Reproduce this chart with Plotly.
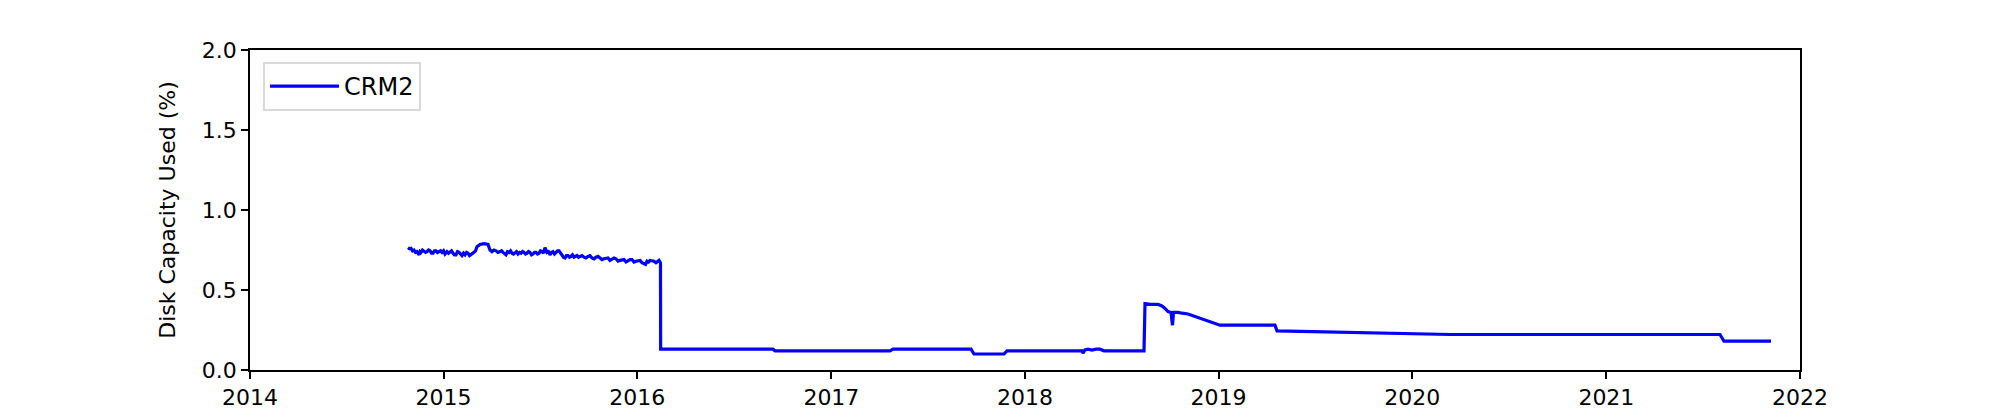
import pandas as pd
import plotly.graph_objects as go

# decimal years and disk capacity used (%) for CRM2
years = [
    2014.8155, 2014.8233, 2014.8310, 2014.8388, 2014.8465, 2014.8542, 2014.8619, 2014.8671,
    2014.8723, 2014.8775, 2014.8826, 2014.8903, 2014.8981, 2014.9058, 2014.9135, 2014.9213,
    2014.9290, 2014.9368, 2014.9445, 2014.9522, 2014.9600, 2014.9677, 2014.9755, 2014.9832,
    2014.9910, 2014.9987, 2015.0065, 2015.0116, 2015.0168, 2015.0245, 2015.0323, 2015.0400,
    2015.0477, 2015.0555, 2015.0632, 2015.0710, 2015.0787, 2015.0865, 2015.0942, 2015.1019,
    2015.1097, 2015.1174, 2015.1252, 2015.1329, 2015.1406, 2015.1484, 2015.1561, 2015.1639,
    2015.1716, 2015.1871, 2015.2077, 2015.2284, 2015.2387, 2015.2490, 2015.2594, 2015.2697,
    2015.2800, 2015.2903, 2015.2981, 2015.3058, 2015.3135, 2015.3213, 2015.3290, 2015.3368,
    2015.3445, 2015.3523, 2015.3600, 2015.3677, 2015.3755, 2015.3832, 2015.3910, 2015.3987,
    2015.4065, 2015.4142, 2015.4219, 2015.4297, 2015.4374, 2015.4452, 2015.4529, 2015.4606,
    2015.4684, 2015.4761, 2015.4839, 2015.4916, 2015.4994, 2015.5071, 2015.5148, 2015.5226,
    2015.5277, 2015.5329, 2015.5406, 2015.5484, 2015.5561, 2015.5639, 2015.5716, 2015.5794,
    2015.5871, 2015.5948, 2015.6026, 2015.6103, 2015.6181, 2015.6258, 2015.6335, 2015.6413,
    2015.6490, 2015.6568, 2015.6645, 2015.6723, 2015.6800, 2015.6877, 2015.6955, 2015.7032,
    2015.7135, 2015.7239, 2015.7342, 2015.7445, 2015.7548, 2015.7652, 2015.7755, 2015.7858,
    2015.7961, 2015.8065, 2015.8168, 2015.8271, 2015.8374, 2015.8477, 2015.8581, 2015.8684,
    2015.8787, 2015.8890, 2015.8994, 2015.9097, 2015.9200, 2015.9303, 2015.9406, 2015.9510,
    2015.9613, 2015.9716, 2015.9819, 2015.9923, 2016.0026, 2016.0129, 2016.0232, 2016.0335,
    2016.0413, 2016.0490, 2016.0568, 2016.0645, 2016.0748, 2016.0852, 2016.0955, 2016.1058,
    2016.1110, 2016.1161, 2016.1187, 2016.1195,
    2016.6994, 2016.7097, 2017.3032, 2017.3187, 2017.7213, 2017.7368, 2017.8916, 2017.9071,
    2018.2942, 2018.2994, 2018.3097, 2018.3252, 2018.3458, 2018.3665, 2018.3871, 2018.4077,
    2018.6142, 2018.6194, 2018.6452, 2018.6865, 2018.7071, 2018.7226, 2018.7381, 2018.7535,
    2018.7613, 2018.7665, 2018.7897, 2018.8103, 2018.8413, 2019.0065, 2019.2903, 2019.3006,
    2019.9355, 2020.1935, 2021.5871, 2021.6077, 2021.8503,
]
usage = [
    0.765, 0.758, 0.76, 0.745, 0.75, 0.735, 0.74, 0.725,
    0.72, 0.74, 0.735, 0.75, 0.745, 0.735, 0.74, 0.75,
    0.745, 0.73, 0.73, 0.745, 0.745, 0.735, 0.74, 0.745,
    0.735, 0.745, 0.725, 0.735, 0.74, 0.73, 0.735, 0.745,
    0.73, 0.72, 0.72, 0.74, 0.735, 0.725, 0.715, 0.73,
    0.72, 0.735, 0.73, 0.715, 0.72, 0.73, 0.735, 0.745,
    0.77, 0.785, 0.79, 0.785, 0.75, 0.74, 0.75, 0.745,
    0.735, 0.74, 0.745, 0.735, 0.725, 0.72, 0.74, 0.735,
    0.745, 0.73, 0.725, 0.735, 0.74, 0.725, 0.735, 0.73,
    0.74, 0.735, 0.725, 0.73, 0.74, 0.735, 0.72, 0.725,
    0.735, 0.735, 0.725, 0.73, 0.745, 0.74, 0.73, 0.765,
    0.75, 0.735, 0.74, 0.72, 0.735, 0.74, 0.725, 0.735,
    0.745, 0.745, 0.73, 0.72, 0.705, 0.70, 0.715, 0.715,
    0.705, 0.71, 0.72, 0.705, 0.71, 0.715, 0.705, 0.71,
    0.715, 0.705, 0.70, 0.71, 0.715, 0.70, 0.695, 0.705,
    0.71, 0.70, 0.69, 0.695, 0.70, 0.70, 0.685, 0.69,
    0.70, 0.695, 0.68, 0.685, 0.69, 0.69, 0.675, 0.685,
    0.69, 0.69, 0.675, 0.68, 0.685, 0.685, 0.67, 0.665,
    0.66, 0.68, 0.675, 0.685, 0.685, 0.68, 0.67, 0.68,
    0.685, 0.675, 0.67, 0.13,
    0.13, 0.12, 0.12, 0.13, 0.13, 0.10, 0.10, 0.12,
    0.12, 0.105, 0.125, 0.13, 0.125, 0.13, 0.13, 0.12,
    0.12, 0.415, 0.41, 0.41, 0.40, 0.385, 0.365, 0.36,
    0.28, 0.36, 0.36, 0.355, 0.35, 0.28, 0.28, 0.245,
    0.228, 0.222, 0.222, 0.18, 0.18,
]
series_name = "CRM2"
y_title = "Disk Capacity Used (%)"
x_ticks = [str(y) for y in range(2014, 2023)]

base = pd.Timestamp("2014-01-01")
dates = [base + pd.Timedelta(days=(y - 2014) * 365.25) for y in years]

FONT = "DejaVu Sans"
fig = go.Figure()
fig.add_trace(go.Scatter(
    x=dates, y=usage, mode="lines", name=series_name,
    line=dict(color="#0000ff", width=3.2),
))

# page body has an 8px default margin, so the figure is offset by 8px
fig.update_layout(
    template="none",
    width=1992, height=408,
    margin=dict(l=242, r=200, t=42, b=46, pad=0, autoexpand=False),
    paper_bgcolor="white", plot_bgcolor="white",
    font=dict(family=FONT, size=22, color="black"),
    showlegend=True,
    legend=dict(
        x=0.0084, y=0.9625, xanchor="left", yanchor="top",
        bgcolor="white", bordercolor="#d9d9d9", borderwidth=2,
        font=dict(family=FONT, size=24, color="black"),
        itemwidth=69, entrywidth=82,
    ),
)
fig.update_xaxes(
    type="date", automargin=False,
    range=["2014-01-01", "2022-01-01"],
    tickvals=[pd.Timestamp(f"{t}-01-01") for t in x_ticks],
    ticktext=x_ticks,
    showgrid=False, zeroline=False,
    showline=True, linecolor="black", linewidth=1.6, mirror=True,
    ticks="outside", ticklen=7, tickwidth=1.6, tickcolor="black",
    tickfont=dict(family=FONT, size=22, color="black"),
)
fig.update_yaxes(
    automargin=False,
    range=[0, 2], tickvals=[0, 0.5, 1.0, 1.5, 2.0],
    ticktext=["0.0", "0.5", "1.0", "1.5", "2.0"],
    showgrid=False, zeroline=False,
    showline=True, linecolor="black", linewidth=1.6, mirror=True,
    ticks="outside", ticklen=7, tickwidth=1.6, tickcolor="black",
    tickfont=dict(family=FONT, size=22, color="black"),
    title=dict(text=y_title, font=dict(family=FONT, size=22, color="black"), standoff=20),
)

fig.write_html("out.html")
